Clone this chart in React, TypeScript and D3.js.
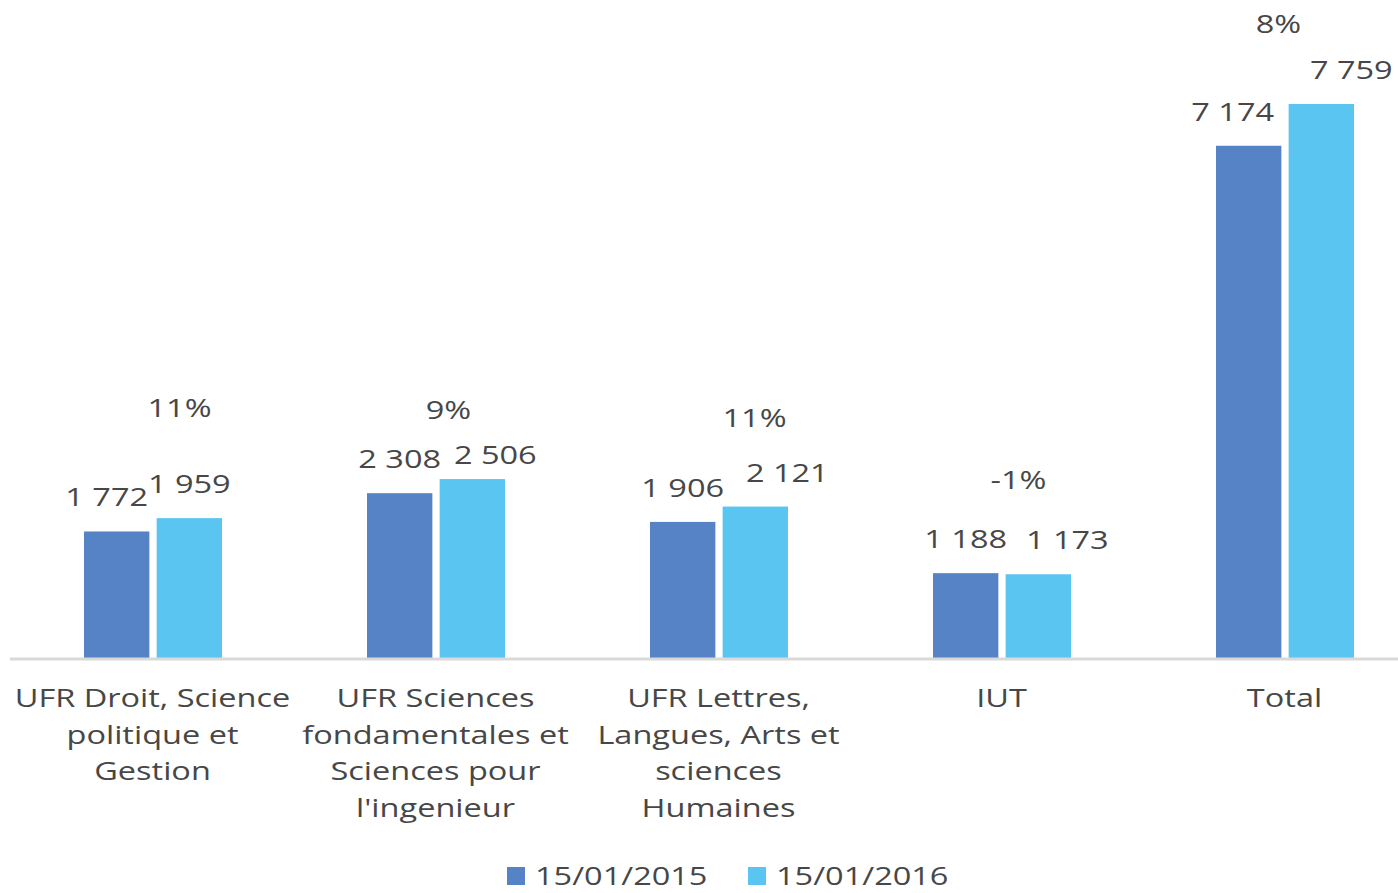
import React from 'react';
import { scaleBand, scaleLinear } from 'd3';

const width = 1398;
const height = 893;

const categories = [
  'UFR Droit, Science\npolitique et\nGestion',
  'UFR Sciences\nfondamentales et\nSciences pour\nl\'ingenieur',
  'UFR Lettres,\nLangues, Arts et\nsciences\nHumaines',
  'IUT',
  'Total',
];
const series = ['15/01/2015', '15/01/2016'];
const values2015 = [1772, 2308, 1906, 1188, 7174];
const values2016 = [1959, 2506, 2121, 1173, 7759];
const growth = ['11%', '9%', '11%', '-1%', '8%'];

const colors = ['#5683c6', '#5bc5f1'];
const textColor = '#474747';
const font = "'Open Sans', sans-serif";
const stretch = 1.25; // the original picture is stretched sideways

// hand-placed label nudges, as in the original
const valueNudge = [
  [[-10, 0], [0, 0], [0, 0], [0, 0], [-16, 0]],
  [[0, 0], [23, 10], [32, 0], [29, 0], [30, 0]],
];
const pctPos = [
  [27, 417],
  [13, 419],
  [36, 427],
  [17, 489],
  [-6, 33],
];

const fmt = (v: number) =>
  String(v).replace(/\B(?=(\d{3})+(?!\d))/g, ' ');

const Label = ({ x, y, anchor = 'middle', children }: any) => (
  <text
    transform={`translate(${x},${y}) scale(${stretch},1)`}
    textAnchor={anchor}
    fontSize={26}
    fill={textColor}
  >
    {children}
  </text>
);

const App = () => {
  const baseline = 658;
  const xScale = scaleBand<string>()
    .domain(categories)
    .range([11, 1426]);
  const xInner = scaleBand<string>()
    .domain(series)
    .range([73, 211])
    .paddingInner(0.1);
  const yScale = scaleLinear()
    .domain([0, 7759])
    .range([baseline, 104]);
  const seriesValues = [values2015, values2016];

  return (
    <svg
      width={width}
      height={height}
      style={{ position: 'fixed', left: 0, top: 0, background: '#fff' }}
      fontFamily={font}
    >
      {categories.map((c, i) => {
        const x0 = xScale(c) as number;
        const cx = x0 + xScale.bandwidth() / 2;
        return (
          <g key={c}>
            {series.map((s, j) => {
              const v = seriesValues[j][i];
              const bx = x0 + (xInner(s) as number);
              const bw = xInner.bandwidth();
              const [dx, dy] = valueNudge[j][i];
              return (
                <g key={s}>
                  <rect
                    x={bx}
                    y={yScale(v)}
                    width={bw}
                    height={baseline - yScale(v)}
                    fill={colors[j]}
                  />
                  <Label x={bx + bw / 2 + dx} y={yScale(v) - 25 + dy}>
                    {fmt(v)}
                  </Label>
                </g>
              );
            })}
            <Label x={cx + pctPos[i][0]} y={pctPos[i][1]}>
              {growth[i]}
            </Label>
            {c.split('\n').map((line, k) => (
              <Label key={k} x={cx} y={707 + k * 36.5}>
                {line}
              </Label>
            ))}
          </g>
        );
      })}
      <line
        x1={10}
        x2={width}
        y1={baseline + 1}
        y2={baseline + 1}
        stroke="#d9d9d9"
        strokeWidth={3}
      />
      {series.map((s, j) => (
        <g key={s} transform={`translate(${507 + j * 241},867)`}>
          <rect width={18} height={18} fill={colors[j]} />
          <Label x={28} y={18} anchor="start">
            {s}
          </Label>
        </g>
      ))}
    </svg>
  );
};

export default App;
